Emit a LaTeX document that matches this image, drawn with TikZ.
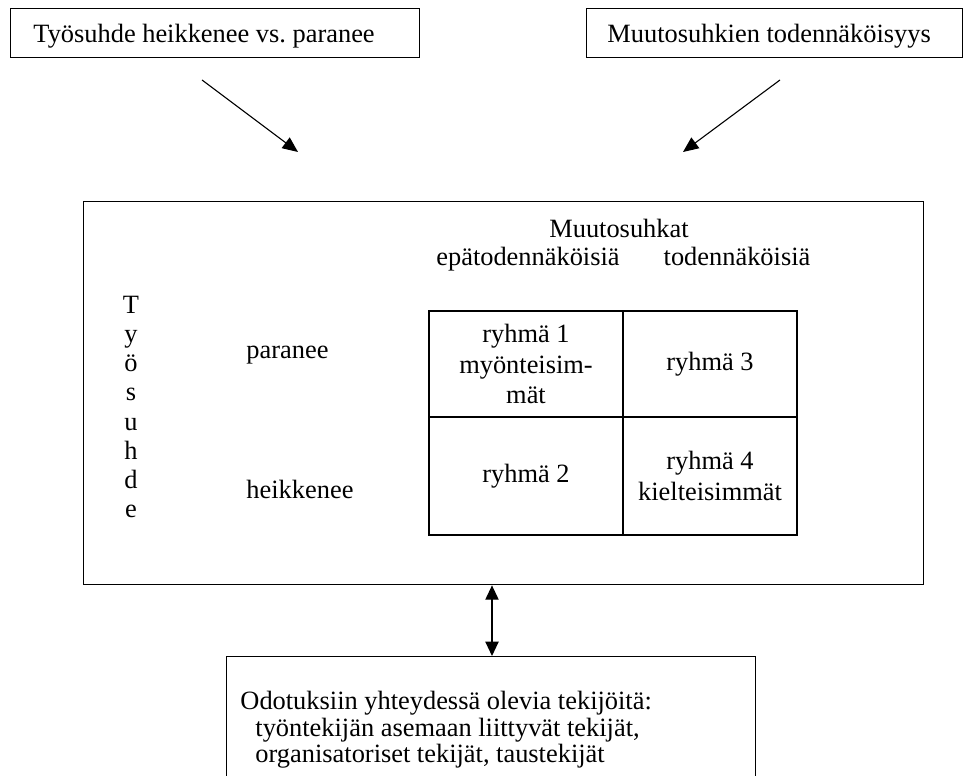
\documentclass[tikz,border=0pt]{standalone}
\usepackage{fontspec}
\setmainfont{Liberation Serif}
\usetikzlibrary{arrows.meta}
\frenchspacing
\begin{document}
\begin{tikzpicture}[x=0.4545pt, y=-0.4545pt,
  frame/.style={draw, line width=0.6pt, inner sep=0pt, anchor=north west},
  cell/.style={draw, line width=0.9pt, inner sep=0pt, anchor=north west, align=center,
    font=\fontsize{12}{14}\selectfont},
  txt/.style={inner sep=0pt, font=\fontsize{12}{14}\selectfont},
  arr/.style={-{Triangle[length=7pt,width=6pt]}, line width=0.5pt},
  darr/.style={{Triangle[length=6.5pt,width=6pt]}-{Triangle[length=6.5pt,width=6pt]}, line width=0.6pt}]
\useasboundingbox (0,0) rectangle (963,776);
\clip (0,0) rectangle (963,776);

% top boxes
\node[frame, minimum width=185.9pt, minimum height=22.3pt] (b1) at (10,8) {};
\node[txt, anchor=base west] (t1) at (33,43) {Työsuhde heikkenee vs. paranee};
\node[frame, minimum width=170.9pt, minimum height=22.3pt] (b2) at (586,8) {};
\node[txt, anchor=base west] (t2) at (607,43) {Muutosuhkien todennäköisyys};

% free arrows
\coordinate (a1s) at (202,80);
\coordinate (a1e) at (298,152);
\coordinate (a2s) at (780,80);
\coordinate (a2e) at (683,152);
\draw[arr] (a1s) -- (a1e);
\draw[arr] (a2s) -- (a2e);

% main box
\node[frame, minimum width=381.8pt, minimum height=174.1pt] (main) at (83,201) {};
\node[txt, anchor=base] (mh) at (619,238) {Muutosuhkat};
\node[txt, anchor=base] (mu) at (528,266) {epätodennäköisiä};
\node[txt, anchor=base] (ml) at (737,266) {todennäköisiä};
\node[txt, align=center, font=\fontsize{12}{13.3}\selectfont] (ty) at (131,407)
  {T\\y\\ö\\s\\u\\h\\d\\e};
\node[txt, anchor=base west] (pa) at (246,359) {paranee};
\node[txt, anchor=base west] (he) at (246,499) {heikkenee};

% grid
\node[cell, minimum width=88.2pt, minimum height=48.2pt] (c1) at (428,310)
  {ryhmä 1\\myönteisim-\\mät};
\node[cell, minimum width=79.1pt, minimum height=48.2pt] (c3) at (622,310)
  {ryhmä 3};
\node[cell, minimum width=88.2pt, minimum height=53.6pt] (c2) at (428,416)
  {ryhmä 2};
\node[cell, minimum width=79.1pt, minimum height=53.6pt] (c4) at (622,416)
  {ryhmä 4\\kielteisimmät};

% bottom box
\node[frame, minimum width=240.4pt, minimum height=63.6pt] (bot) at (226,656) {};
\node[txt, anchor=base west] (o1) at (240,710) {Odotuksiin yhteydessä olevia tekijöitä:};
\node[txt, anchor=base west] (o2) at (255,737) {työntekijän asemaan liittyvät tekijät,};
\node[txt, anchor=base west] (o3) at (255,763) {organisatoriset tekijät, taustekijät};

\draw[darr] (main.south -| 492,0) -- (bot.north -| 492,0);
\end{tikzpicture}
\end{document}
